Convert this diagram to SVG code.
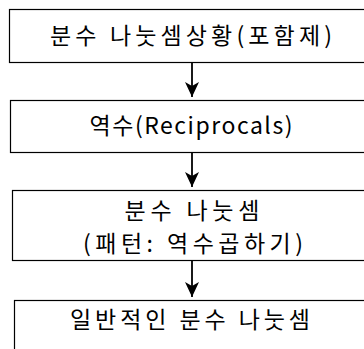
<svg xmlns="http://www.w3.org/2000/svg" width="364" height="349" viewBox="0 0 364 349">
<style>
.box{fill:#fff;stroke:#000;stroke-width:1.2}
.t{font-family:"Noto Sans CJK KR","Noto Sans",sans-serif;font-size:23px;fill:#000;text-anchor:middle}
.c{stroke:#000;stroke-width:1.8;fill:none}
</style>
<defs>
<marker id="ah" markerWidth="15" markerHeight="14" refX="15" refY="7" orient="auto" markerUnits="userSpaceOnUse" viewBox="0 0 15 14">
<path d="M0,0 L15,7 L0,14 L4,7 Z" fill="#000"/>
</marker>
</defs>
<g id="n1"><rect class="box" x="9.5" y="9.5" width="370" height="53"/><text class="t" x="191" y="44" textLength="282" lengthAdjust="spacing">분수 나눗셈상황(포함제)</text></g>
<g id="n2"><rect class="box" x="10.5" y="100.5" width="370" height="52"/><text class="t" x="191" y="134" textLength="203" lengthAdjust="spacing">역수(Reciprocals)</text></g>
<g id="n3"><rect class="box" x="12.5" y="190.5" width="370" height="70"/><text class="t" x="192" y="219" textLength="135" lengthAdjust="spacing">분수 나눗셈</text><text class="t" x="193" y="252" textLength="220" lengthAdjust="spacing">(패턴: 역수곱하기)</text></g>
<g id="n4"><rect class="box" x="14.5" y="300.5" width="370" height="70"/><text class="t" x="190" y="328" textLength="240" lengthAdjust="spacing">일반적인 분수 나눗셈</text></g>
<g id="connectors">
<line class="c" x1="192" y1="63" x2="192" y2="97" marker-end="url(#ah)"/>
<line class="c" x1="192" y1="153" x2="192" y2="187" marker-end="url(#ah)"/>
<line class="c" x1="192" y1="261" x2="192" y2="297" marker-end="url(#ah)"/>
</g>
</svg>
